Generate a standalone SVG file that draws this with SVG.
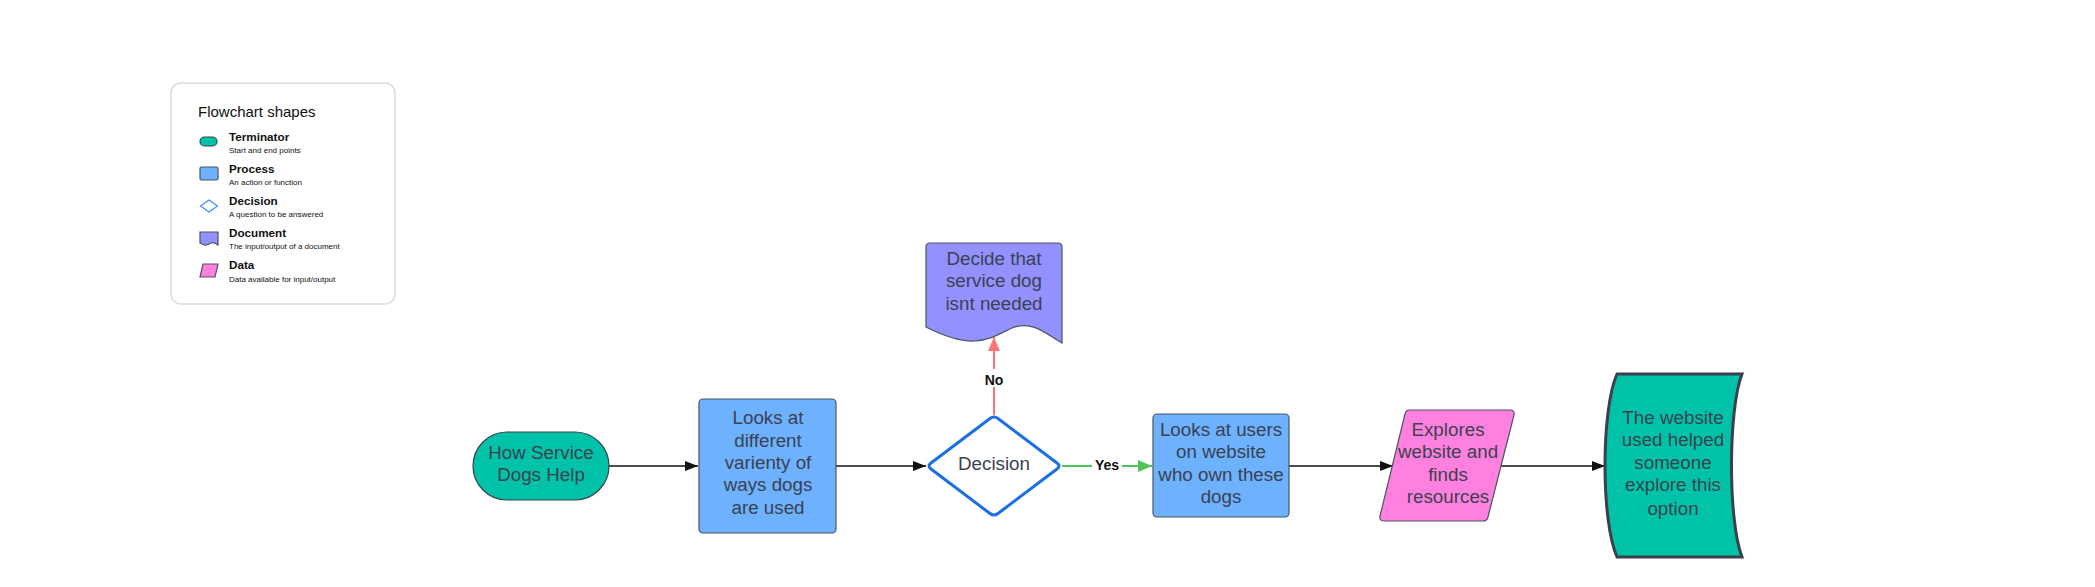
<svg xmlns="http://www.w3.org/2000/svg" width="2095" height="587" viewBox="0 0 2095 587">
<style>
.t{font-family:"Liberation Sans",Arial,sans-serif;font-size:18.8px;fill:#3b4250;text-anchor:middle}
.lt{font-family:"Liberation Sans",Arial,sans-serif;fill:#111}
.lb{font-size:11.7px;font-weight:bold}
.ls{font-size:8px}
.lbl{font-family:"Liberation Sans",Arial,sans-serif;font-size:14px;font-weight:bold;fill:#111;text-anchor:middle}
.c{fill:none;stroke:#111;stroke-width:1.5}
.term{fill:#00C2A8;stroke:#3a414a;stroke-width:1.2}
.proc{fill:#6DB1FF;stroke:#4a5566;stroke-width:1.2}
.doc{fill:#9391FF;stroke:#4a5566;stroke-width:1.2}
.data{fill:#FF80DF;stroke:#4a5566;stroke-width:1.2}
</style>
<defs>
<marker id="ab" markerUnits="userSpaceOnUse" markerWidth="14" markerHeight="12" refX="13" refY="6" orient="auto"><path d="M0,1 L13,6 L0,11 Z" fill="#111"/></marker>
<marker id="ar" markerUnits="userSpaceOnUse" markerWidth="15" markerHeight="14" refX="14" refY="7" orient="auto"><path d="M0,1 L14,7 L0,13 Z" fill="#FF7575"/></marker>
<marker id="ag" markerUnits="userSpaceOnUse" markerWidth="15" markerHeight="14" refX="14" refY="7" orient="auto"><path d="M0,1 L14,7 L0,13 Z" fill="#4CC459"/></marker>
</defs>
<rect width="2095" height="587" fill="#fff"/>
<g id="legend">
<rect x="171" y="83" width="224" height="221" rx="10" fill="#fff" stroke="#dcdcdc" stroke-width="1.5"/>
<text class="lt" x="198" y="117" font-size="15">Flowchart shapes</text>
<rect x="200" y="137" width="17" height="9" rx="4.5" class="term"/>
<text class="lt lb" x="229" y="141">Terminator</text>
<text class="lt ls" x="229" y="153">Start and end points</text>
<rect x="200" y="167" width="18" height="13" rx="1.5" class="proc"/>
<text class="lt lb" x="229" y="173">Process</text>
<text class="lt ls" x="229" y="185">An action or function</text>
<path d="M200.5,206 L209,200 L217.5,206 L209,212 Z" fill="#fff" stroke="#3d8bff" stroke-width="1.2"/>
<text class="lt lb" x="229" y="205">Decision</text>
<text class="lt ls" x="229" y="217">A question to be answered</text>
<path d="M200,232 H218 V245 C214,242 212,242 209,244 C206,246 203,245 200,243 Z" class="doc"/>
<text class="lt lb" x="229" y="237">Document</text>
<text class="lt ls" x="229" y="249">The input/output of a document</text>
<path d="M203,264 H218 L215,277 H200 Z" class="data"/>
<text class="lt lb" x="229" y="269">Data</text>
<text class="lt ls" x="229" y="282">Data available for input/output</text>
</g>
<g id="connectors">
<line x1="609" y1="466" x2="698" y2="466" class="c" marker-end="url(#ab)"/>
<line x1="836" y1="466" x2="926" y2="466" class="c" marker-end="url(#ab)"/>
<line x1="994" y1="415" x2="994" y2="337" fill="none" stroke="#FF7575" stroke-width="2" marker-end="url(#ar)"/>
<rect x="982" y="369" width="24" height="18" fill="#fff"/>
<text class="lbl" x="994" y="385">No</text>
<line x1="1062" y1="466" x2="1152" y2="466" fill="none" stroke="#4CC459" stroke-width="2" marker-end="url(#ag)"/>
<rect x="1092" y="456" width="30" height="16" fill="#fff"/>
<text class="lbl" x="1107" y="470">Yes</text>
<line x1="1289" y1="466" x2="1393" y2="466" class="c" marker-end="url(#ab)"/>
<line x1="1501" y1="466" x2="1605" y2="466" class="c" marker-end="url(#ab)"/>
</g>
<g id="start">
<rect x="473" y="432" width="136" height="68" rx="34" class="term"/>
<text class="t" x="541" y="459">How Service</text>
<text class="t" x="541" y="481">Dogs Help</text>
</g>
<g id="process1">
<rect x="699" y="399" width="137" height="134" rx="4" class="proc"/>
<text class="t" x="768" y="424">Looks at</text>
<text class="t" x="768" y="447">different</text>
<text class="t" x="768" y="469">varienty of</text>
<text class="t" x="768" y="491">ways dogs</text>
<text class="t" x="768" y="514">are used</text>
</g>
<g id="decision">
<path d="M990,418.5 Q994,415.5 998,418.5 L1057,463 Q1061,466 1057,469 L998,513.5 Q994,516.5 990,513.5 L931,469 Q927,466 931,463 Z" fill="#fff" stroke="#1C6FE3" stroke-width="3"/>
<text class="t" x="994" y="470">Decision</text>
</g>
<g id="document">
<path d="M930,243 H1058 Q1062,243 1062,247 V343 C1045,333 1032,320 1012,328 C990,338 975,352 926,327 V247 Q926,243 930,243 Z" class="doc"/>
<text class="t" x="994" y="265">Decide that</text>
<text class="t" x="994" y="287">service dog</text>
<text class="t" x="994" y="310">isnt needed</text>
</g>
<g id="process2">
<rect x="1153" y="414" width="136" height="103" rx="4" class="proc"/>
<text class="t" x="1221" y="436">Looks at users</text>
<text class="t" x="1221" y="458">on website</text>
<text class="t" x="1221" y="481">who own these</text>
<text class="t" x="1221" y="503">dogs</text>
</g>
<g id="data">
<path d="M1409,410 H1510 Q1515,410 1514,415 L1488,517 Q1487,521 1483,521 H1384 Q1379,521 1380,516 L1405,414 Q1406,410 1409,410 Z" class="data"/>
<text class="t" x="1448" y="436">Explores</text>
<text class="t" x="1448" y="458">website and</text>
<text class="t" x="1448" y="481">finds</text>
<text class="t" x="1448" y="503">resources</text>
</g>
<g id="end">
<path d="M1617,374 H1742 C1728,410 1728,521 1742,557 H1617 C1601,521 1601,410 1617,374 Z" fill="#00C2A8" stroke="#3a414a" stroke-width="3"/>
<text class="t" x="1673" y="424">The website</text>
<text class="t" x="1673" y="446">used helped</text>
<text class="t" x="1673" y="469">someone</text>
<text class="t" x="1673" y="491">explore this</text>
<text class="t" x="1673" y="515">option</text>
</g>
</svg>
